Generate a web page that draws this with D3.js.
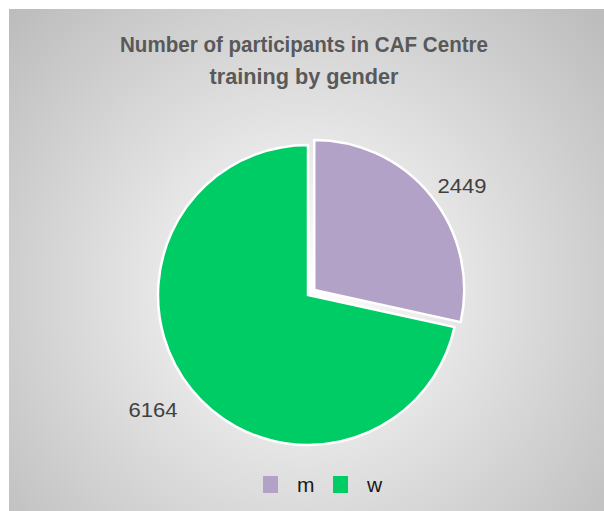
<!DOCTYPE html>
<html><head><meta charset="utf-8">
<script src="https://cdn.jsdelivr.net/npm/d3@7"></script>
<style>html,body{margin:0;padding:0;background:#fff;}svg{display:block;}</style>
</head><body>
<script>
const categories = ["m", "w"];
const values = [2449, 6164];
const colors = ["#B3A2C7", "#00CC66"];
const titleLines = ["Number of participants in CAF Centre", "training by gender"];

const W = 604, H = 511;
const svg = d3.select("body").append("svg").attr("width", W).attr("height", H);
const defs = svg.append("defs");
const grad = defs.append("radialGradient").attr("id", "bg")
  .attr("gradientUnits", "userSpaceOnUse")
  .attr("cx", 305).attr("cy", 290).attr("r", 400);
grad.append("stop").attr("offset", "0%").attr("stop-color", "#ffffff");
grad.append("stop").attr("offset", "100%").attr("stop-color", "#bdbdbd");

svg.append("rect").attr("x", 9).attr("y", 9).attr("width", W - 9).attr("height", H - 9)
  .attr("fill", "url(#bg)");

// Title
const title = svg.append("g");
const titleW = [368, 189];
titleLines.forEach((t, i) => {
  title.append("text")
    .attr("x", 304).attr("y", 52 + i * 32)
    .attr("text-anchor", "middle")
    .attr("font-family", "'Liberation Sans Narrow', 'Liberation Sans', Arial, sans-serif")
    .attr("font-weight", "bold").attr("font-size", 22.5)
    .attr("fill", "#595959")
    .attr("textLength", titleW[i]).attr("lengthAdjust", "spacingAndGlyphs")
    .text(t);
});

// Pie
const cx = 308, cy = 295, R = 150, explode = 8;
const pie = d3.pie().sort(null).value(d => d)(values);
const arc = d3.arc().innerRadius(0).outerRadius(R);
const g = svg.append("g").attr("transform", `translate(${cx},${cy})`);
g.selectAll("path").data(pie).enter().append("path")
  .attr("d", arc)
  .attr("fill", (d, i) => colors[i])
  .attr("stroke", "#fff").attr("stroke-width", 2.5)
  .attr("transform", (d, i) => {
    if (i !== 0) return null;
    const a = (d.startAngle + d.endAngle) / 2;
    return `translate(${explode * Math.sin(a)},${-explode * Math.cos(a)})`;
  });

// Data labels
const labelPos = [[462, 193], [153, 417]];
svg.selectAll("text.lbl").data(values).enter().append("text")
  .attr("class", "lbl")
  .attr("x", (d, i) => labelPos[i][0]).attr("y", (d, i) => labelPos[i][1])
  .attr("text-anchor", "middle")
  .attr("font-family", "'Liberation Sans', Arial, sans-serif")
  .attr("font-size", 21).attr("fill", "#404040")
  .attr("textLength", 49).attr("lengthAdjust", "spacingAndGlyphs")
  .text(d => d);

// Legend
const lg = svg.append("g");
const legX = [263, 333];
categories.forEach((c, i) => {
  lg.append("rect").attr("x", legX[i]).attr("y", 476).attr("width", 15).attr("height", 17)
    .attr("fill", colors[i]);
  lg.append("text").attr("x", legX[i] + 34).attr("y", 492)
    .attr("font-family", "'Liberation Sans', Arial, sans-serif")
    .attr("font-size", 21).attr("fill", "#1a1a1a")
    .text(c);
});
</script>
</body></html>
